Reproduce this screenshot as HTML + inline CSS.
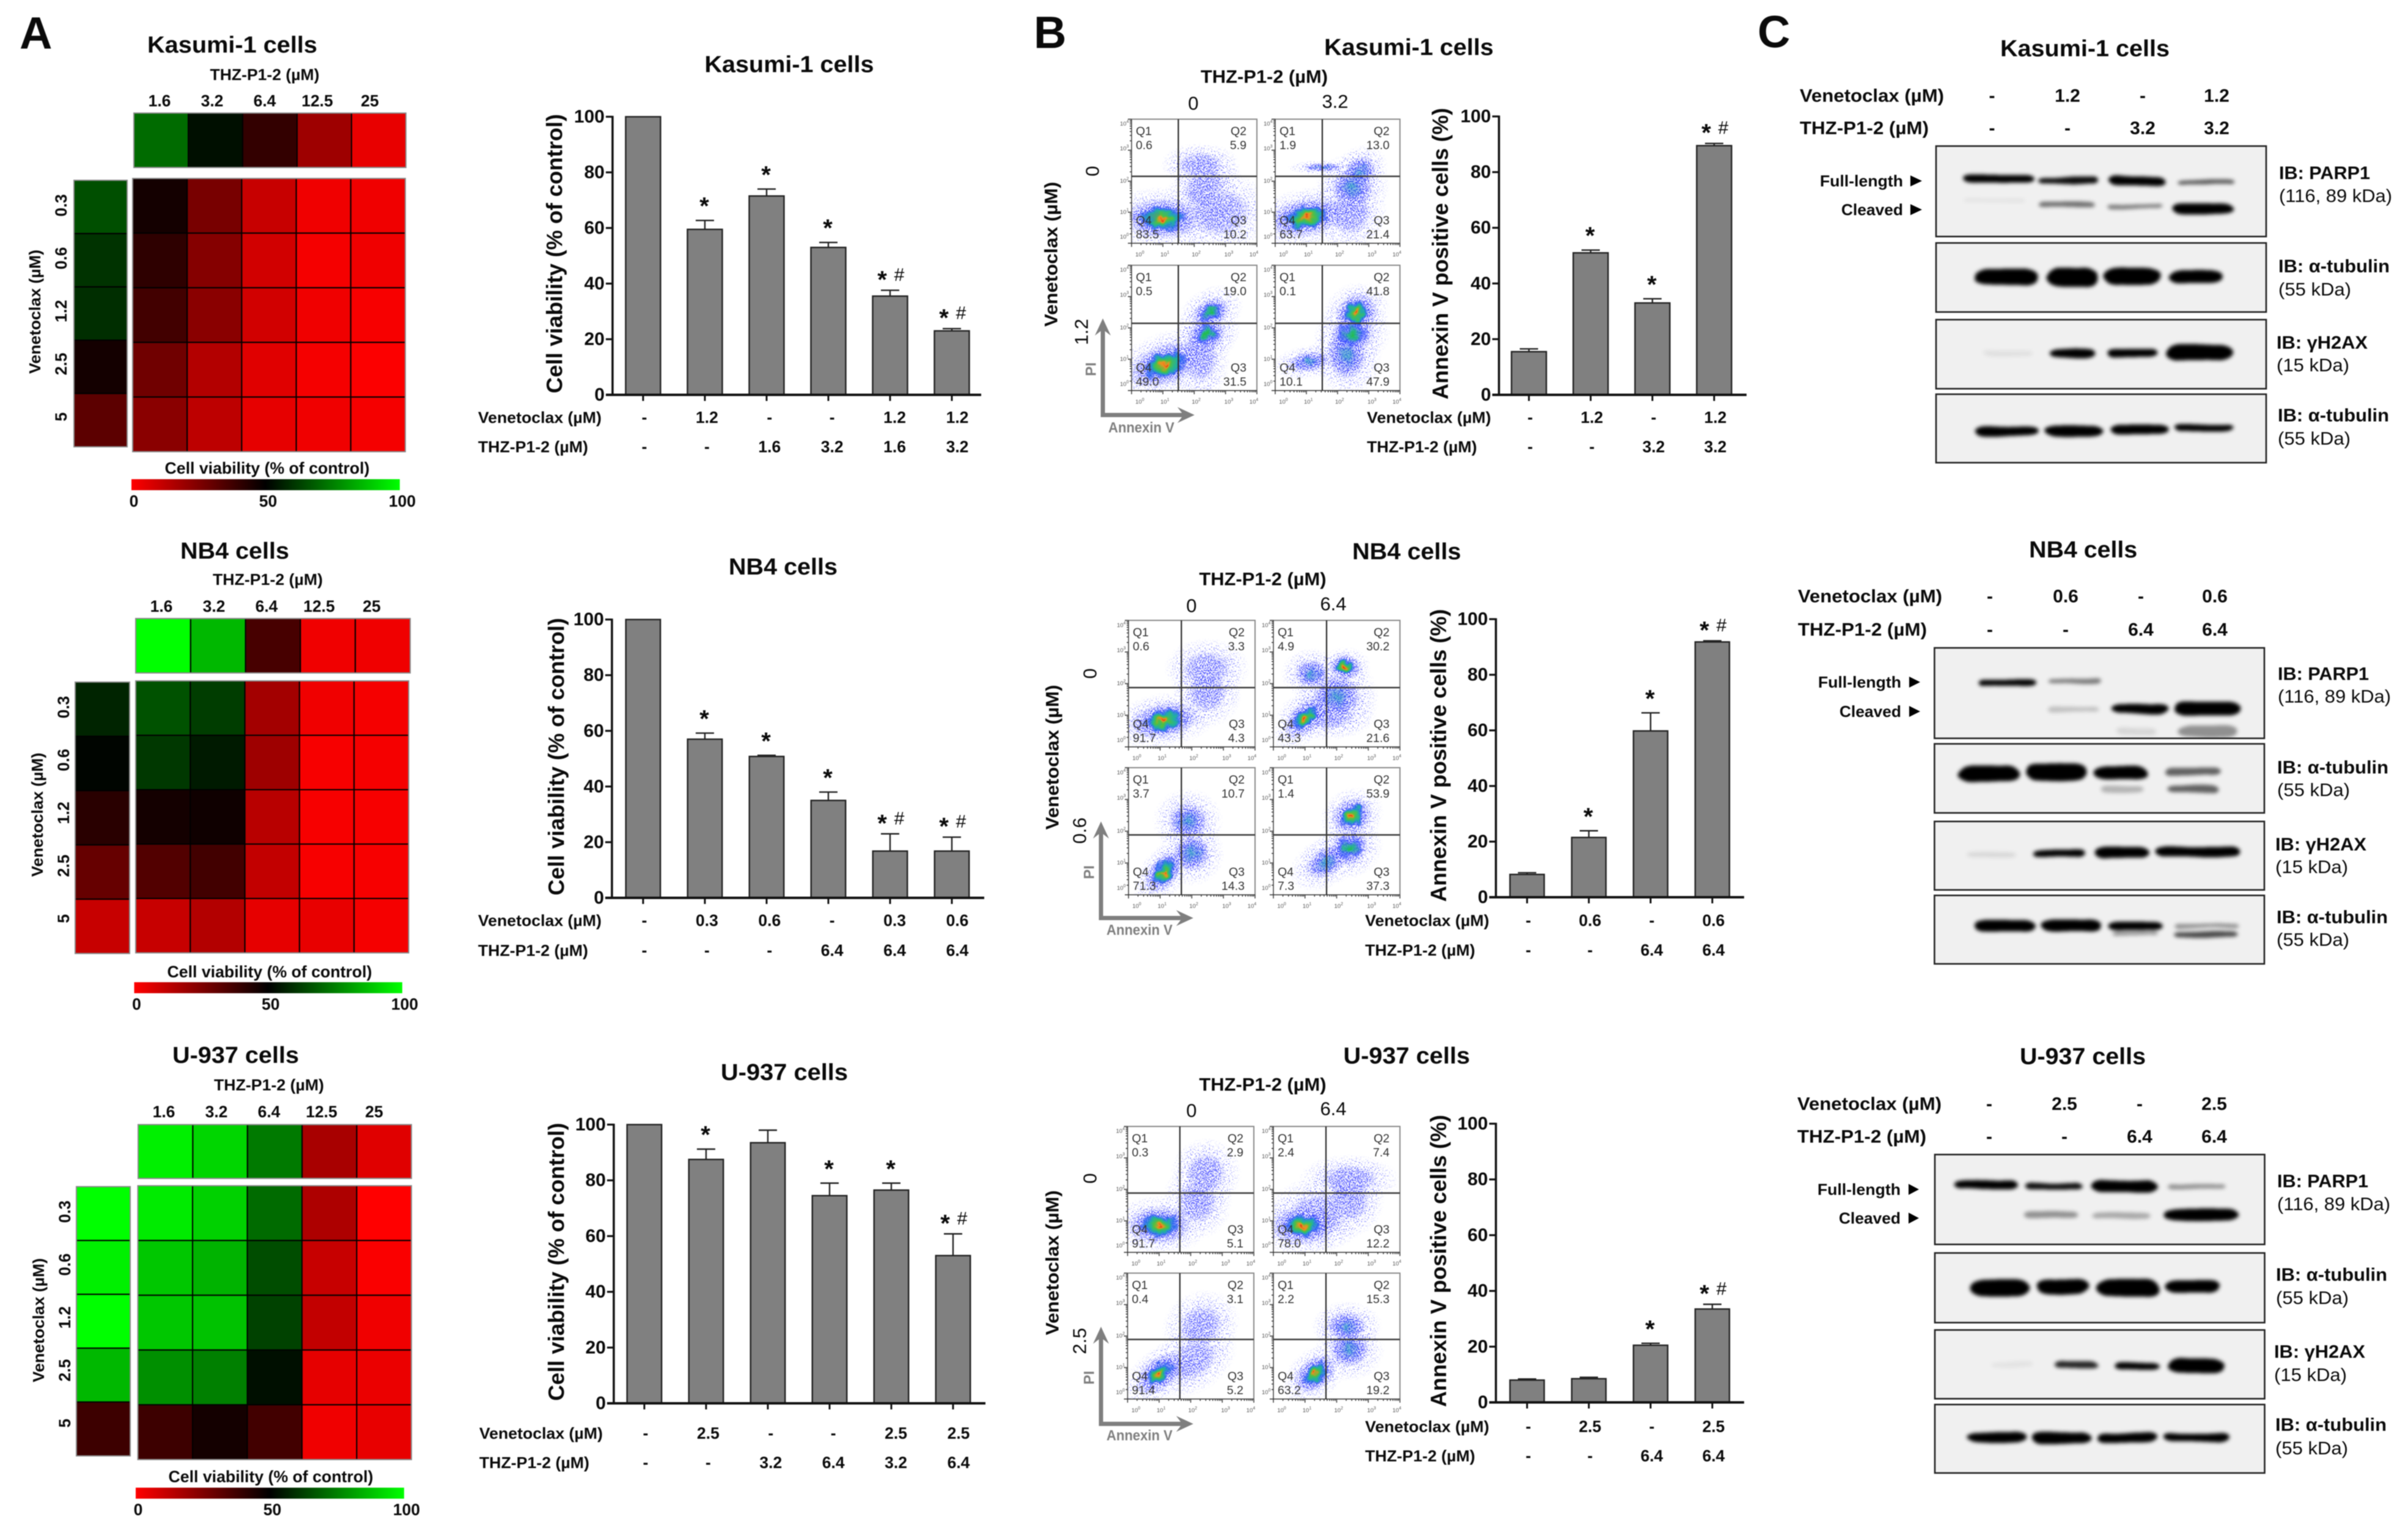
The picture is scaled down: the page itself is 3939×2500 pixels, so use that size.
<!DOCTYPE html>
<html lang="en">
<head>
<meta charset="utf-8">
<title>Venetoclax and THZ-P1-2 combination figure</title>
<style>
html,body{margin:0;padding:0;background:#fff}
svg{display:block;filter:blur(.7px)}
text{font-family:"Liberation Sans","Noto Sans CJK SC",sans-serif;dominant-baseline:central;fill:#0a0a0a}
.b{font-weight:bold}
.n{font-weight:normal}
.m{text-anchor:middle}
.e{text-anchor:end}
.g{fill:#7f7f7f}
.q{fill:#333}
.t{fill:#555}
</style>
</head>
<body>
<svg id="figure" xmlns="http://www.w3.org/2000/svg" width="3939" height="2500" viewBox="0 0 3939 2500">
<defs>
<linearGradient id="cbar" x1="0" x2="1" y1="0" y2="0"><stop offset="0" stop-color="#ff0000"/><stop offset=".5" stop-color="#000"/><stop offset="1" stop-color="#00ff00"/></linearGradient>
<radialGradient id="gOuter"><stop offset="0" stop-color="#1a20ff" stop-opacity="1"/><stop offset=".65" stop-color="#2a30ff" stop-opacity=".85"/><stop offset="1" stop-color="#4048ff" stop-opacity="0"/></radialGradient>
<radialGradient id="gCore1"><stop offset="0" stop-color="#30a8c0" stop-opacity=".75"/><stop offset="1" stop-color="#3040ff" stop-opacity="0"/></radialGradient>
<radialGradient id="gCore2"><stop offset="0" stop-color="#20c040"/><stop offset=".35" stop-color="#20b090" stop-opacity=".9"/><stop offset=".7" stop-color="#3050ff" stop-opacity=".6"/><stop offset="1" stop-color="#3050ff" stop-opacity="0"/></radialGradient>
<radialGradient id="gCore3"><stop offset="0" stop-color="#d83010"/><stop offset=".12" stop-color="#f09020"/><stop offset=".3" stop-color="#50c040"/><stop offset=".55" stop-color="#20b0a0"/><stop offset=".78" stop-color="#2060f0" stop-opacity=".75"/><stop offset="1" stop-color="#2040f0" stop-opacity="0"/></radialGradient>
<filter id="speck" x="-10%" y="-10%" width="120%" height="120%"><feTurbulence type="fractalNoise" baseFrequency=".55" numOctaves="1" seed="3" result="n"/><feColorMatrix in="n" type="matrix" values="0 0 0 0 0 0 0 0 0 0 0 0 0 0 0 0 0 0 14 -7" result="mask"/><feComposite in="SourceGraphic" in2="mask" operator="in"/></filter>
<filter id="speckSparse" x="-10%" y="-10%" width="120%" height="120%"><feTurbulence type="fractalNoise" baseFrequency=".55" numOctaves="1" seed="11" result="n"/><feColorMatrix in="n" type="matrix" values="0 0 0 0 0 0 0 0 0 0 0 0 0 0 0 0 0 0 14 -8.4" result="mask"/><feComposite in="SourceGraphic" in2="mask" operator="in"/></filter>
<filter id="rough" x="-20%" y="-20%" width="140%" height="140%"><feTurbulence type="fractalNoise" baseFrequency=".07" numOctaves="2" seed="5" result="n"/><feDisplacementMap in="SourceGraphic" in2="n" scale="18" xChannelSelector="R" yChannelSelector="G"/></filter>
<filter id="bandBlur" x="-10%" y="-40%" width="120%" height="180%"><feTurbulence type="fractalNoise" baseFrequency=".012 .05" numOctaves="2" seed="8" result="n"/><feDisplacementMap in="SourceGraphic" in2="n" scale="7" xChannelSelector="R" yChannelSelector="G" result="d"/><feGaussianBlur in="d" stdDeviation="3.2"/></filter>
</defs>

<g id="marks"></g>

<g>
<text class="b" x="32" y="54" font-size="74">A</text>
<text class="b" x="1691" y="53" font-size="74">B</text>
<text class="b" x="2875" y="52" font-size="74">C</text>
</g>

<g>
<text class="b m" x="380" y="74" font-size="38" textLength="278" lengthAdjust="spacingAndGlyphs">Kasumi-1 cells</text>
<text class="b m" x="433" y="122" font-size="26" textLength="179" lengthAdjust="spacingAndGlyphs">THZ-P1-2 (µM)</text>
<text class="b m" x="57" y="510" font-size="26" textLength="203" lengthAdjust="spacingAndGlyphs" transform="rotate(-90 57 510)">Venetoclax (µM)</text>
<text class="b m" x="437" y="766" font-size="26.5" textLength="335" lengthAdjust="spacingAndGlyphs">Cell viability (% of control)</text>
<text class="b m" x="384" y="902" font-size="38" textLength="178" lengthAdjust="spacingAndGlyphs">NB4 cells</text>
<text class="b m" x="438" y="948" font-size="26" textLength="180" lengthAdjust="spacingAndGlyphs">THZ-P1-2 (µM)</text>
<text class="b m" x="61" y="1333" font-size="26" textLength="203" lengthAdjust="spacingAndGlyphs" transform="rotate(-90 61 1333)">Venetoclax (µM)</text>
<text class="b m" x="441" y="1590" font-size="26.5" textLength="335" lengthAdjust="spacingAndGlyphs">Cell viability (% of control)</text>
<text class="b m" x="385.5" y="1727" font-size="38" textLength="207" lengthAdjust="spacingAndGlyphs">U-937 cells</text>
<text class="b m" x="440" y="1775" font-size="26" textLength="180" lengthAdjust="spacingAndGlyphs">THZ-P1-2 (µM)</text>
<text class="b m" x="63" y="2160" font-size="26" textLength="203" lengthAdjust="spacingAndGlyphs" transform="rotate(-90 63 2160)">Venetoclax (µM)</text>
<text class="b m" x="443" y="2416" font-size="26.5" textLength="335" lengthAdjust="spacingAndGlyphs">Cell viability (% of control)</text>
</g>

<g>
<text class="b m" x="1291" y="106" font-size="38" textLength="277" lengthAdjust="spacingAndGlyphs">Kasumi-1 cells</text>
<text class="b m" x="907" y="415" font-size="36" textLength="457" lengthAdjust="spacingAndGlyphs" transform="rotate(-90 907 415)">Cell viability (% of control)</text>
<text class="b" x="782" y="683" font-size="26" textLength="202" lengthAdjust="spacingAndGlyphs">Venetoclax (µM)</text>
<text class="b" x="782" y="731" font-size="26" textLength="180" lengthAdjust="spacingAndGlyphs">THZ-P1-2 (µM)</text>
<text class="b m" x="1281" y="928" font-size="38" textLength="178" lengthAdjust="spacingAndGlyphs">NB4 cells</text>
<text class="b m" x="910" y="1238" font-size="36" textLength="454" lengthAdjust="spacingAndGlyphs" transform="rotate(-90 910 1238)">Cell viability (% of control)</text>
<text class="b" x="782" y="1506" font-size="26" textLength="202" lengthAdjust="spacingAndGlyphs">Venetoclax (µM)</text>
<text class="b" x="782" y="1555" font-size="26" textLength="180" lengthAdjust="spacingAndGlyphs">THZ-P1-2 (µM)</text>
<text class="b m" x="1283" y="1755" font-size="38" textLength="208" lengthAdjust="spacingAndGlyphs">U-937 cells</text>
<text class="b m" x="910" y="2064.5" font-size="36" textLength="455" lengthAdjust="spacingAndGlyphs" transform="rotate(-90 910 2064.5)">Cell viability (% of control)</text>
<text class="b" x="784" y="2345" font-size="26" textLength="202" lengthAdjust="spacingAndGlyphs">Venetoclax (µM)</text>
<text class="b" x="784" y="2393" font-size="26" textLength="180" lengthAdjust="spacingAndGlyphs">THZ-P1-2 (µM)</text>
</g>

<g>
<text class="b m" x="2304.7" y="78" font-size="38" textLength="277" lengthAdjust="spacingAndGlyphs">Kasumi-1 cells</text>
<text class="b m" x="2068" y="126" font-size="30" textLength="208" lengthAdjust="spacingAndGlyphs">THZ-P1-2 (µM)</text>
<text class="b m" x="1720" y="416" font-size="30" textLength="237" lengthAdjust="spacingAndGlyphs" transform="rotate(-90 1720 416)">Venetoclax (µM)</text>
<text class="b m" x="2356" y="415" font-size="36" textLength="477" lengthAdjust="spacingAndGlyphs" transform="rotate(-90 2356 415)">Annexin V positive cells (%)</text>
<text class="b" x="2236" y="683" font-size="26" textLength="203" lengthAdjust="spacingAndGlyphs">Venetoclax (µM)</text>
<text class="b" x="2236" y="731" font-size="26" textLength="180" lengthAdjust="spacingAndGlyphs">THZ-P1-2 (µM)</text>
<text class="b m g" x="1785" y="604" font-size="24" transform="rotate(-90 1785 604)">PI</text>
<text class="b g" x="1813" y="700" font-size="24" textLength="108" lengthAdjust="spacingAndGlyphs">Annexin V</text>
<text class="n m" x="1952" y="169" font-size="31">0</text>
<text class="n m" x="2184" y="166" font-size="31">3.2</text>
<text class="n m" x="1787" y="280" font-size="31" transform="rotate(-90 1787 280)">0</text>
<text class="n m" x="1769" y="543" font-size="31" transform="rotate(-90 1769 543)">1.2</text>

<text class="b m" x="2301" y="903" font-size="38" textLength="178" lengthAdjust="spacingAndGlyphs">NB4 cells</text>
<text class="b m" x="2065.5" y="948" font-size="30" textLength="208" lengthAdjust="spacingAndGlyphs">THZ-P1-2 (µM)</text>
<text class="b m" x="1722" y="1239" font-size="30" textLength="237" lengthAdjust="spacingAndGlyphs" transform="rotate(-90 1722 1239)">Venetoclax (µM)</text>
<text class="b m" x="2353" y="1236" font-size="36" textLength="479" lengthAdjust="spacingAndGlyphs" transform="rotate(-90 2353 1236)">Annexin V positive cells (%)</text>
<text class="b" x="2233" y="1506" font-size="26" textLength="203" lengthAdjust="spacingAndGlyphs">Venetoclax (µM)</text>
<text class="b" x="2233" y="1554.5" font-size="26" textLength="180" lengthAdjust="spacingAndGlyphs">THZ-P1-2 (µM)</text>
<text class="b m g" x="1782" y="1427" font-size="24" transform="rotate(-90 1782 1427)">PI</text>
<text class="b g" x="1810" y="1522" font-size="24" textLength="108" lengthAdjust="spacingAndGlyphs">Annexin V</text>
<text class="n m" x="1949" y="991" font-size="31">0</text>
<text class="n m" x="2181" y="988" font-size="31">6.4</text>
<text class="n m" x="1783" y="1102" font-size="31" transform="rotate(-90 1783 1102)">0</text>
<text class="n m" x="1766" y="1359" font-size="31" transform="rotate(-90 1766 1359)">0.6</text>

<text class="b m" x="2301" y="1728" font-size="38" textLength="207" lengthAdjust="spacingAndGlyphs">U-937 cells</text>
<text class="b m" x="2065.5" y="1775" font-size="30" textLength="208" lengthAdjust="spacingAndGlyphs">THZ-P1-2 (µM)</text>
<text class="b m" x="1722" y="2066" font-size="30" textLength="237" lengthAdjust="spacingAndGlyphs" transform="rotate(-90 1722 2066)">Venetoclax (µM)</text>
<text class="b m" x="2353" y="2063" font-size="36" textLength="478" lengthAdjust="spacingAndGlyphs" transform="rotate(-90 2353 2063)">Annexin V positive cells (%)</text>
<text class="b" x="2233" y="2334" font-size="26" textLength="203" lengthAdjust="spacingAndGlyphs">Venetoclax (µM)</text>
<text class="b" x="2233" y="2382" font-size="26" textLength="180" lengthAdjust="spacingAndGlyphs">THZ-P1-2 (µM)</text>
<text class="b m g" x="1782" y="2254" font-size="24" transform="rotate(-90 1782 2254)">PI</text>
<text class="b g" x="1810" y="2349" font-size="24" textLength="108" lengthAdjust="spacingAndGlyphs">Annexin V</text>
<text class="n m" x="1949" y="1817" font-size="31">0</text>
<text class="n m" x="2181" y="1814" font-size="31">6.4</text>
<text class="n m" x="1783" y="1928" font-size="31" transform="rotate(-90 1783 1928)">0</text>
<text class="n m" x="1766" y="2194" font-size="31" transform="rotate(-90 1766 2194)">2.5</text>
</g>

<g>
<text class="b m" x="3410.5" y="80" font-size="38" textLength="277" lengthAdjust="spacingAndGlyphs">Kasumi-1 cells</text>
<text class="b" x="2944" y="157" font-size="30" textLength="236" lengthAdjust="spacingAndGlyphs">Venetoclax (µM)</text>
<text class="b" x="2944" y="210" font-size="30" textLength="211" lengthAdjust="spacingAndGlyphs">THZ-P1-2 (µM)</text>
<text class="b e" x="3113" y="296" font-size="26" textLength="136" lengthAdjust="spacingAndGlyphs">Full-length</text>
<text class="b e" x="3113" y="343" font-size="26" textLength="101" lengthAdjust="spacingAndGlyphs">Cleaved</text>
<polygon points="3125,287 3144,296 3125,305" fill="#000"/>
<polygon points="3125,334 3144,343 3125,352" fill="#000"/>
<text class="b" x="3728" y="283.6" font-size="30" textLength="149" lengthAdjust="spacingAndGlyphs">IB: PARP1</text>
<text class="n" x="3728" y="321" font-size="30" textLength="185" lengthAdjust="spacingAndGlyphs">(116, 89 kDa)</text>
<text class="b" x="3727" y="436" font-size="30" textLength="182" lengthAdjust="spacingAndGlyphs">IB: α-tubulin</text>
<text class="n" x="3727" y="474" font-size="30" textLength="119" lengthAdjust="spacingAndGlyphs">(55 kDa)</text>
<text class="b" x="3724" y="561" font-size="30" textLength="149" lengthAdjust="spacingAndGlyphs">IB: γH2AX</text>
<text class="n" x="3724" y="598" font-size="30" textLength="119" lengthAdjust="spacingAndGlyphs">(15 kDa)</text>
<text class="b" x="3726" y="680" font-size="30" textLength="182" lengthAdjust="spacingAndGlyphs">IB: α-tubulin</text>
<text class="n" x="3726" y="718" font-size="30" textLength="119" lengthAdjust="spacingAndGlyphs">(55 kDa)</text>

<text class="b m" x="3407.7" y="900" font-size="38" textLength="177" lengthAdjust="spacingAndGlyphs">NB4 cells</text>
<text class="b" x="2941" y="976" font-size="30" textLength="236" lengthAdjust="spacingAndGlyphs">Venetoclax (µM)</text>
<text class="b" x="2941" y="1030.6" font-size="30" textLength="211" lengthAdjust="spacingAndGlyphs">THZ-P1-2 (µM)</text>
<text class="b e" x="3110" y="1116" font-size="26" textLength="136" lengthAdjust="spacingAndGlyphs">Full-length</text>
<text class="b e" x="3110" y="1164" font-size="26" textLength="101" lengthAdjust="spacingAndGlyphs">Cleaved</text>
<polygon points="3123,1107 3141,1116 3123,1125" fill="#000"/>
<polygon points="3123,1155 3141,1164 3123,1173" fill="#000"/>
<text class="b" x="3726" y="1103" font-size="30" textLength="149" lengthAdjust="spacingAndGlyphs">IB: PARP1</text>
<text class="n" x="3726" y="1140" font-size="30" textLength="185" lengthAdjust="spacingAndGlyphs">(116, 89 kDa)</text>
<text class="b" x="3725" y="1256" font-size="30" textLength="182" lengthAdjust="spacingAndGlyphs">IB: α-tubulin</text>
<text class="n" x="3725" y="1293" font-size="30" textLength="119" lengthAdjust="spacingAndGlyphs">(55 kDa)</text>
<text class="b" x="3722" y="1382" font-size="30" textLength="149" lengthAdjust="spacingAndGlyphs">IB: γH2AX</text>
<text class="n" x="3722" y="1419" font-size="30" textLength="119" lengthAdjust="spacingAndGlyphs">(15 kDa)</text>
<text class="b" x="3724" y="1501" font-size="30" textLength="182" lengthAdjust="spacingAndGlyphs">IB: α-tubulin</text>
<text class="n" x="3724" y="1538" font-size="30" textLength="119" lengthAdjust="spacingAndGlyphs">(55 kDa)</text>

<text class="b m" x="3407" y="1729" font-size="38" textLength="206" lengthAdjust="spacingAndGlyphs">U-937 cells</text>
<text class="b" x="2940" y="1806.6" font-size="30" textLength="236" lengthAdjust="spacingAndGlyphs">Venetoclax (µM)</text>
<text class="b" x="2940" y="1860" font-size="30" textLength="211" lengthAdjust="spacingAndGlyphs">THZ-P1-2 (µM)</text>
<text class="b e" x="3109" y="1946" font-size="26" textLength="136" lengthAdjust="spacingAndGlyphs">Full-length</text>
<text class="b e" x="3109" y="1993" font-size="26" textLength="101" lengthAdjust="spacingAndGlyphs">Cleaved</text>
<polygon points="3122,1937 3139,1946 3122,1955" fill="#000"/>
<polygon points="3122,1984 3139,1993 3122,2002" fill="#000"/>
<text class="b" x="3725" y="1933" font-size="30" textLength="149" lengthAdjust="spacingAndGlyphs">IB: PARP1</text>
<text class="n" x="3725" y="1970.5" font-size="30" textLength="185" lengthAdjust="spacingAndGlyphs">(116, 89 kDa)</text>
<text class="b" x="3723" y="2086" font-size="30" textLength="182" lengthAdjust="spacingAndGlyphs">IB: α-tubulin</text>
<text class="n" x="3723" y="2124" font-size="30" textLength="119" lengthAdjust="spacingAndGlyphs">(55 kDa)</text>
<text class="b" x="3720" y="2212" font-size="30" textLength="149" lengthAdjust="spacingAndGlyphs">IB: γH2AX</text>
<text class="n" x="3720" y="2250" font-size="30" textLength="119" lengthAdjust="spacingAndGlyphs">(15 kDa)</text>
<text class="b" x="3722" y="2331.6" font-size="30" textLength="182" lengthAdjust="spacingAndGlyphs">IB: α-tubulin</text>
<text class="n" x="3722" y="2370" font-size="30" textLength="119" lengthAdjust="spacingAndGlyphs">(55 kDa)</text>
</g>
</svg>

<script>
/* ---------- heatmap data: cell viability, % of control ---------- */
const heatColumnLabels = ['1.6', '3.2', '6.4', '12.5', '25'];
const heatRowLabels = ['0.3', '0.6', '1.2', '2.5', '5'];
const colorbarTicks = [0, 50, 100];

const kasumiThzOnly = [71, 53, 40, 19, 4.5];
const kasumiVenOnly = [65.5, 60, 59, 46, 32];
const kasumiCombo = [
  [46, 26.5, 11, 3, 3],
  [41, 24, 9, 2, 3],
  [37, 23, 9, 3, 1.5],
  [28, 15, 6, 2, 0.5],
  [23, 13, 5, 3, 2]
];
const nb4ThzOnly = [100, 86, 36, 3, 3];
const nb4VenOnly = [57, 51, 42, 30, 11];
const nb4Combo = [
  [66, 62, 18, 3, 2],
  [61, 55, 19, 1.5, 2],
  [46, 47, 14, 1.5, 1.5],
  [34, 37, 12, 1.5, 1.5],
  [11, 15, 5, 4.5, 2]
];
const u937ThzOnly = [97, 92, 74, 17, 6];
const u937VenOnly = [100, 97, 100, 86, 38];
const u937Combo = [
  [96, 91, 71, 16, 0],
  [89, 85, 65, 11, 1],
  [89, 88, 63, 12, 3],
  [78, 75, 53, 5, 4],
  [38, 46, 37, 3, 4.5]
];

/* ---------- bar data ---------- */
const yTicks = [0, 20, 40, 60, 80, 100];

const viabKasumiValues = [100, 59.5, 71.5, 53, 35.5, 23];
const viabKasumiErrors = [0, 3.2, 2.5, 1.8, 2.1, 0.8];
const viabKasumiSig = ['', '*', '*', '*', '* #', '* #'];
const viabKasumiVen = ['-', '1.2', '-', '-', '1.2', '1.2'];
const viabKasumiThz = ['-', '-', '1.6', '3.2', '1.6', '3.2'];

const viabNb4Values = [100, 57, 50.8, 35, 16.8, 16.8];
const viabNb4Errors = [0, 2.2, 0.4, 3, 6.2, 5];
const viabNb4Sig = ['', '*', '*', '*', '* #', '* #'];
const viabNb4Ven = ['-', '0.3', '0.6', '-', '0.3', '0.6'];
const viabNb4Thz = ['-', '-', '-', '6.4', '6.4', '6.4'];

const viabU937Values = [100, 87.5, 93.5, 74.5, 76.5, 53];
const viabU937Errors = [0, 3.7, 4.5, 4.5, 2.5, 7.8];
const viabU937Sig = ['', '*', '', '*', '*', '* #'];
const viabU937Ven = ['-', '2.5', '-', '-', '2.5', '2.5'];
const viabU937Thz = ['-', '-', '3.2', '6.4', '3.2', '6.4'];

const annexinKasumiValues = [15.5, 51, 33, 89.5];
const annexinKasumiErrors = [1, 1, 1.5, 0.8];
const annexinKasumiSig = ['', '*', '*', '* #'];
const annexinKasumiVen = ['-', '1.2', '-', '1.2'];
const annexinKasumiThz = ['-', '-', '3.2', '3.2'];

const annexinNb4Values = [8.2, 21.5, 59.8, 91.8];
const annexinNb4Errors = [0.6, 2.4, 6.5, 0.4];
const annexinNb4Sig = ['', '*', '*', '* #'];
const annexinNb4Ven = ['-', '0.6', '-', '0.6'];
const annexinNb4Thz = ['-', '-', '6.4', '6.4'];

const annexinU937Values = [8, 8.5, 20.5, 33.5];
const annexinU937Errors = [0.4, 0.5, 0.7, 1.7];
const annexinU937Sig = ['', '', '*', '* #'];
const annexinU937Ven = ['-', '2.5', '-', '2.5'];
const annexinU937Thz = ['-', '-', '6.4', '6.4'];

/* ---------- flow cytometry: gate percentages [Q1, Q2, Q3, Q4] per plot ---------- */
const gateKasumi = [['0.6','5.9','10.2','83.5'], ['1.9','13.0','21.4','63.7'], ['0.5','19.0','31.5','49.0'], ['0.1','41.8','47.9','10.1']];
const gateNb4 = [['0.6','3.3','4.3','91.7'], ['4.9','30.2','21.6','43.3'], ['3.7','10.7','14.3','71.3'], ['1.4','53.9','37.3','7.3']];
const gateU937 = [['0.3','2.9','5.1','91.7'], ['2.4','7.4','12.2','78.0'], ['0.4','3.1','5.2','91.4'], ['2.2','15.3','19.2','63.2']];

/* populations: [annexin fraction, PI fraction from top, spread x, spread y, tilt, density level] */
const popKasumi = [
  [[.25,.80,.24,.13,0,3],[.12,.79,.14,.05,0,1],[.55,.37,.16,.09,0,0],[.58,.55,.16,.12,-30,0],[.7,.75,.22,.17,0,0]],
  [[.25,.79,.25,.12,-10,3],[.38,.39,.14,.03,0,1],[.68,.42,.12,.1,-40,1],[.62,.55,.15,.14,0,1],[.6,.75,.15,.16,0,0]],
  [[.27,.79,.24,.13,-20,3],[.63,.38,.14,.1,-30,2],[.6,.55,.14,.11,-20,2],[.55,.72,.12,.2,0,0]],
  [[.65,.38,.14,.12,-30,3],[.62,.55,.16,.14,-30,2],[.57,.72,.14,.17,-10,1],[.27,.77,.15,.07,-10,1]]
];
const popNb4 = [
  [[.28,.79,.22,.11,-10,3],[.62,.38,.17,.12,0,0],[.62,.57,.14,.14,0,0]],
  [[.57,.37,.1,.08,0,3],[.25,.77,.16,.09,-45,3],[.3,.42,.12,.1,0,1],[.5,.6,.17,.15,0,1],[.42,.75,.2,.1,0,0]],
  [[.28,.82,.16,.09,-50,3],[.47,.42,.14,.13,0,1],[.5,.67,.13,.13,-30,1]],
  [[.62,.38,.13,.11,-30,3],[.6,.63,.14,.12,-30,2],[.42,.74,.16,.1,-30,1]]
];
const popU937 = [
  [[.25,.785,.2,.12,0,3],[.62,.37,.14,.14,0,0],[.55,.6,.14,.15,0,0]],
  [[.23,.79,.2,.12,0,3],[.6,.42,.2,.1,0,0],[.6,.58,.14,.15,0,0],[.35,.7,.2,.15,0,0]],
  [[.25,.8,.17,.1,-40,3],[.58,.42,.16,.14,-30,0],[.5,.7,.2,.13,-30,0]],
  [[.33,.8,.15,.1,-40,3],[.58,.42,.14,.1,0,1],[.6,.6,.14,.13,0,1]]
];

/* ---------- blots: lane dose labels and band [start, end, centre, thickness, darkness] ---------- */
const blotKasumiVen = ['-', '1.2', '-', '1.2'];
const blotKasumiThz = ['-', '-', '3.2', '3.2'];
const blotNb4Ven = ['-', '0.6', '-', '0.6'];
const blotNb4Thz = ['-', '-', '6.4', '6.4'];
const blotU937Ven = ['-', '2.5', '-', '2.5'];
const blotU937Thz = ['-', '-', '6.4', '6.4'];

const bandsKasumi = [
  [[470,645,587,22,1],[655,805,593,16,.95],[830,970,595,28,1],[1000,1140,600,9,.65],[470,620,660,6,.06],[655,795,673,12,.55],[825,960,678,10,.5],[985,1138,686,30,1]],
  [[498,655,912,50,1],[675,805,912,56,1],[818,958,908,50,1],[978,1110,910,36,1]],
  [[520,640,1160,12,.07],[683,795,1163,24,1],[825,950,1160,24,1],[970,1135,1160,50,1]],
  [[500,655,1418,28,1],[670,815,1418,32,1],[833,975,1412,25,1],[990,1138,1406,18,1]]
];
const bandsNb4 = [
  [[508,650,530,14,1],[680,810,527,10,.5],[680,805,620,12,.2],[835,975,618,28,1],[990,1155,616,40,1],[1000,1145,695,34,.4],[845,950,695,20,.1]],
  [[458,610,838,48,1],[625,775,832,52,1],[792,925,835,40,1],[968,1105,830,20,.6],[975,1100,887,20,.6],[810,915,890,14,.25]],
  [[480,600,1110,10,.1],[642,770,1107,20,1],[795,930,1103,32,1],[945,1155,1100,30,1]],
  [[498,650,1350,34,1],[662,812,1350,36,1],[830,960,1350,28,1],[990,1150,1352,10,.4],[990,1150,1380,14,.7],[840,950,1378,8,.4]]
];
const bandsU937 = [
  [[447,605,492,24,1],[622,765,497,18,.95],[785,950,497,32,1],[975,1120,498,10,.4],[622,755,592,16,.4],[790,930,597,14,.3],[965,1150,593,36,1]],
  [[488,632,840,52,1],[650,782,835,46,1],[800,955,840,56,1],[970,1105,835,36,1]],
  [[540,640,1098,10,.06],[695,805,1100,18,.85],[845,955,1103,22,1],[975,1115,1102,45,1]],
  [[480,625,1345,30,1],[638,785,1347,34,1],[800,950,1345,28,1],[965,1125,1345,22,1]]
];

/* ---------- helpers ---------- */
const NS = 'http://www.w3.org/2000/svg';
const root = document.getElementById('marks');
function add(parent, tag, attrs) {
  const node = document.createElementNS(NS, tag);
  for (const k in attrs) node.setAttribute(k, attrs[k]);
  parent.appendChild(node);
  return node;
}
function lab(parent, x, y, str, cls, size) {
  const node = add(parent, 'text', { x: x, y: y, class: cls, 'font-size': size });
  node.textContent = str;
  return node;
}
function group(parent, name) {
  const el = add(parent, 'g', {});
  
  
  return el;
}
function viabColor(v) {
  if (v < 50) return 'rgb(' + Math.round((50 - v) / 50 * 255) + ',0,0)';
  return 'rgb(0,' + Math.round((v - 50) / 50 * 255) + ',0)';
}

/* ---------- heatmaps ---------- */
function heatGrid(parent, name, x, y, w, h, matrix) {
  const g = group(parent, name);
  const cw = w / matrix[0].length, ch = h / matrix.length;
  matrix.forEach(function (row, r) {
    row.forEach(function (v, c) {
      const el = add(g, 'rect', { x: x + c * cw, y: y + r * ch, width: cw, height: ch, fill: viabColor(v), stroke: '#000', 'stroke-width': 2 });
      
      
    });
  });
  const frame = add(g, 'rect', { x: x, y: y, width: w, height: h, fill: 'none', stroke: '#8a8a8a', 'stroke-width': 2 });
  
  
}
function heatPanel(key, thzOnly, venOnly, combo, top, left, main, bar, colY, rowX) {
  const g = group(root, 'heatmap-panel-' + key);
  heatGrid(g, 'heatmap-thz-only-' + key, top[0], top[1], top[2], top[3], [thzOnly]);
  heatGrid(g, 'heatmap-venetoclax-only-' + key, left[0], left[1], left[2], left[3], venOnly.map(function (v) { return [v]; }));
  heatGrid(g, 'heatmap-combination-' + key, main[0], main[1], main[2], main[3], combo);
  heatColumnLabels.forEach(function (s, i) {
    const el = lab(g, top[0] + 42 + i * 86, colY, s, 'b m', 26.5);
    
    
  });
  heatRowLabels.forEach(function (s, i) {
    const cy = left[1] + 41 + i * 86.5;
    const el = lab(g, rowX, cy, s, 'b m', 26.5);
    el.setAttribute('transform', 'rotate(-90 ' + rowX + ' ' + cy + ')');
    
    
  });
  const cb = add(g, 'rect', { x: bar[0], y: bar[1], width: bar[2], height: bar[3], fill: 'url(#cbar)' });
  
  
  colorbarTicks.forEach(function (t) {
    const el = lab(g, bar[0] + 4 + t / 100 * bar[2], bar[1] + bar[3] + 18, String(t), 'b m', 26.5);
    
    
  });
}
heatPanel('kasumi', kasumiThzOnly, kasumiVenOnly, kasumiCombo, [219, 185, 445, 89], [121, 295, 87, 436], [217, 292, 446, 447], [215, 784, 439, 18], 165, 100);
heatPanel('nb4', nb4ThzOnly, nb4VenOnly, nb4Combo, [222, 1012, 449, 89], [123, 1116, 89, 444], [222, 1114, 446.5, 445], [219.5, 1607, 438.5, 18], 992, 104);
heatPanel('u937', u937ThzOnly, u937VenOnly, u937Combo, [226, 1840, 447, 88], [125, 1941.5, 88, 440.5], [225.5, 1940, 447.5, 448], [222, 2434, 439, 18], 1819, 106);

/* ---------- bar charts ---------- */
function barChart(name, a, values, errors, sig, venRow, thzRow) {
  const g = group(root, name);
  const yScale = function (v) { return a.y0 - (v / 100) * (a.y0 - a.y100); };
  const xScale = function (i) { return a.first + i * a.step; };
  values.forEach(function (v, i) {
    const cx = xScale(i), topY = yScale(v);
    const bar = add(g, 'rect', { x: cx - a.barW / 2, y: topY, width: a.barW, height: a.y0 - topY, fill: '#808080', stroke: '#222', 'stroke-width': 2.4 });
    
    
    const errY = yScale(v + errors[i]);
    if (errors[i] > 0) {
      const err = add(g, 'path', { d: 'M' + cx + ' ' + topY + 'V' + errY + 'M' + (cx - 15) + ' ' + errY + 'H' + (cx + 15), fill: 'none', stroke: '#222', 'stroke-width': 2.4 });
      
      
    }
    const tick = add(g, 'line', { x1: cx, x2: cx, y1: a.y0, y2: a.y0 + 10, stroke: '#111', 'stroke-width': 3 });
    
    
    if (sig[i]) {
      const dbl = sig[i].length > 1;
      const starY = errY - (dbl ? 25 : 31);
      const star = lab(g, cx + (dbl ? -13 : -1), starY + 8, '*', 'b m', 40);
      
      
      if (dbl) {
        const hash = lab(g, cx + 15, starY, '#', 'n m', 30);
        
        
      }
    }
    const lx = cx + a.labShift(i);
    const v1 = lab(g, lx, a.rowA, venRow[i], 'b m', a.valFs);
    
    
    const v2 = lab(g, lx, a.rowB, thzRow[i], 'b m', a.valFs);
    
    
  });
  const yAxis = add(g, 'line', { x1: a.x0, x2: a.x0, y1: a.y100 - 1.5, y2: a.y0 + 2, stroke: '#111', 'stroke-width': 3.5 });
  
  
  const xAxis = add(g, 'line', { x1: a.x0 - 11, x2: a.xEnd, y1: a.y0, y2: a.y0, stroke: '#111', 'stroke-width': 4 });
  
  
  yTicks.forEach(function (t) {
    const ty = yScale(t);
    const tk = add(g, 'line', { x1: a.x0 - 11, x2: a.x0, y1: ty, y2: ty, stroke: '#111', 'stroke-width': 3.2 });
    
    
    const tl = lab(g, a.x0 - 13, ty, String(t), 'b e', 30);
    
    
  });
}
const shiftA = function (i) { return 2 + i * 1.4; };
const shiftB = function () { return 2; };
barChart('viability-chart-kasumi', { x0: 1002, y100: 191, y0: 646, first: 1052, step: 101, barW: 57, xEnd: 1605, rowA: 683, rowB: 731, valFs: 26.5, labShift: shiftA }, viabKasumiValues, viabKasumiErrors, viabKasumiSig, viabKasumiVen, viabKasumiThz);
barChart('viability-chart-nb4', { x0: 1001, y100: 1013.6, y0: 1469, first: 1052, step: 101, barW: 56.5, xEnd: 1610, rowA: 1506, rowB: 1555, valFs: 26.5, labShift: shiftA }, viabNb4Values, viabNb4Errors, viabNb4Sig, viabNb4Ven, viabNb4Thz);
barChart('viability-chart-u937', { x0: 1004, y100: 1840, y0: 2296, first: 1054, step: 101, barW: 56.5, xEnd: 1612, rowA: 2345, rowB: 2393, valFs: 26.5, labShift: shiftA }, viabU937Values, viabU937Errors, viabU937Sig, viabU937Ven, viabU937Thz);
barChart('annexin-chart-kasumi', { x0: 2452, y100: 190.5, y0: 646, first: 2501, step: 101, barW: 57, xEnd: 2857, rowA: 683, rowB: 731, valFs: 26.5, labShift: shiftB }, annexinKasumiValues, annexinKasumiErrors, annexinKasumiSig, annexinKasumiVen, annexinKasumiThz);
barChart('annexin-chart-nb4', { x0: 2447, y100: 1013, y0: 1468, first: 2498, step: 101, barW: 56, xEnd: 2853, rowA: 1506, rowB: 1554.5, valFs: 26.5, labShift: shiftB }, annexinNb4Values, annexinNb4Errors, annexinNb4Sig, annexinNb4Ven, annexinNb4Thz);
barChart('annexin-chart-u937', { x0: 2447, y100: 1838.5, y0: 2294.5, first: 2498, step: 101, barW: 56, xEnd: 2853, rowA: 2334, rowB: 2382, valFs: 26.5, labShift: shiftB }, annexinU937Values, annexinU937Errors, annexinU937Sig, annexinU937Ven, annexinU937Thz);

/* ---------- flow cytometry plots ---------- */
let clipId = 0;
function logTicks(len) {
  const out = [];
  for (let d = 0; d < 4; d++) {
    for (let m = 1; m < 10; m++) out.push([(d + Math.log10(m)) / 4 * len, m === 1]);
  }
  out.push([len, true]);
  return out;
}
function flowPlot(name, x0, y0, x1, y1, vx, hy, pops, q) {
  const g = group(root, name);
  const w = x1 - x0, h = y1 - y0;
  const id = 'clip' + (clipId++);
  const cp = add(g, 'clipPath', { id: id });
  add(cp, 'rect', { x: x0, y: y0, width: w, height: h });
  const clipped = add(g, 'g', { 'clip-path': 'url(#' + id + ')' });
  const halos = add(clipped, 'g', { filter: 'url(#speckSparse)' });
  const clouds = add(clipped, 'g', { filter: 'url(#speck)' });
  const cores = add(clipped, 'g', { filter: 'url(#rough)' });
  pops.forEach(function (p, i) {
    const cx = x0 + p[0] * w, cy = y0 + p[1] * h, rx = p[2] * w, ry = p[3] * h, lvl = p[5];
    const rot = 'rotate(' + p[4] + ' ' + cx + ' ' + cy + ')';
    const halo = add(halos, 'ellipse', { cx: cx, cy: cy, rx: rx * 2, ry: ry * 2, fill: 'url(#gOuter)', opacity: .8, transform: rot });
    
    
    const scale = lvl === 3 ? 1.3 : 1.15;
    const cloud = add(clouds, 'ellipse', { cx: cx, cy: cy, rx: rx * scale, ry: ry * scale, fill: 'url(#gOuter)', opacity: lvl === 0 ? .75 : 1, transform: rot });
    
    
    if (lvl > 0) {
      const core = add(cores, 'ellipse', { cx: cx, cy: cy, rx: rx * (lvl === 3 ? .78 : .75), ry: ry * (lvl === 3 ? .78 : .75), fill: 'url(#gCore' + lvl + ')', transform: rot });
      
      
    }
  });
  const frameTR = add(g, 'path', { d: 'M' + x0 + ' ' + y0 + 'H' + x1 + 'V' + y1, fill: 'none', stroke: '#8a8a8a', 'stroke-width': 2 });
  
  
  let dAxis = 'M' + x0 + ' ' + y0 + 'V' + y1 + 'H' + x1;
  logTicks(w).forEach(function (t) { dAxis += 'M' + (x0 + t[0]) + ' ' + y1 + 'v' + (t[1] ? 6 : 3); });
  logTicks(h).forEach(function (t) { dAxis += 'M' + x0 + ' ' + (y1 - t[0]) + 'h' + (t[1] ? -6 : -3); });
  const axes = add(g, 'path', { d: dAxis, fill: 'none', stroke: '#333', 'stroke-width': 1.4 });
  
  
  const gateV = add(g, 'line', { x1: vx, x2: vx, y1: y0, y2: y1, stroke: '#2a2a2a', 'stroke-width': 2.2 });
  
  
  const gateH = add(g, 'line', { x1: x0, x2: x1, y1: hy, y2: hy, stroke: '#3a3a3a', 'stroke-width': 2.6 });
  
  
  [.05, .25, .5, .76, .96].forEach(function (f, k) {
    const xt = lab(g, x0 + f * w - 4, y1 + 19, '10', 't n', 9.5);
    add(xt, 'tspan', { dy: -4, 'font-size': 7 }).textContent = String(k);
    
    
    const yt = lab(g, x0 - 19, y1 - f * h, '10', 't n', 9.5);
    add(yt, 'tspan', { dy: -4, 'font-size': 7 }).textContent = String(k);
    
    
  });
  const gateNames = ['Q1', 'Q2', 'Q3', 'Q4'];
  const spots = [[x0 + 7, y0 + 20, 'q'], [x1 - 17, y0 + 20, 'q e'], [x1 - 17, y1 - 37, 'q e'], [x0 + 7, y1 - 37, 'q']];
  gateNames.forEach(function (nm, i) {
    const s = spots[i];
    const a1 = lab(g, s[0], s[1], nm, s[2], 19.5);
    
    
    const a2 = lab(g, s[0], s[1] + 23, q[i], s[2], 19.5);
    
    
  });
}
function flowSet(key, cols, rows, gates, pops, qs) {
  const names = ['control', 'thz', 'venetoclax', 'combination'];
  let k = 0;
  rows.forEach(function (r, ri) {
    cols.forEach(function (c, ci) {
      flowPlot('flow-plot-' + key + '-' + names[k], c[0], r[0], c[1], r[1], gates.v[ci], gates.h[ri], pops[k], qs[k]);
      k++;
    });
  });
}
flowSet('kasumi', [[1851, 2056], [2086, 2290]], [[195, 398], [434, 639]], { v: [1927.5, 2163], h: [288.5, 529] }, popKasumi, gateKasumi);
flowSet('nb4', [[1846, 2053], [2083, 2290]], [[1015, 1222], [1256, 1464]], { v: [1932.5, 2170], h: [1125, 1366] }, popNb4, gateNb4);
flowSet('u937', [[1844.5, 2051], [2083, 2290]], [[1843, 2049], [2083, 2289]], { v: [1930, 2169], h: [1952, 2191.5] }, popU937, gateU937);

function axisArrows(key, x, yBottom, yTop, xEnd) {
  const g = group(root, 'flow-axis-arrows-' + key);
  const line = add(g, 'path', { d: 'M' + x + ' ' + (yTop + 14) + 'V' + yBottom + 'H' + (xEnd - 14), fill: 'none', stroke: '#7f7f7f', 'stroke-width': 7 });
  
  
  const up = add(g, 'polygon', { points: x + ',' + yTop + ' ' + (x + 13) + ',' + (yTop + 28) + ' ' + x + ',' + (yTop + 18) + ' ' + (x - 13) + ',' + (yTop + 28), fill: '#7f7f7f' });
  
  
  const right = add(g, 'polygon', { points: xEnd + ',' + yBottom + ' ' + (xEnd - 28) + ',' + (yBottom - 13) + ' ' + (xEnd - 18) + ',' + yBottom + ' ' + (xEnd - 28) + ',' + (yBottom + 13), fill: '#7f7f7f' });
  
  
}
axisArrows('kasumi', 1804, 679, 521, 1954);
axisArrows('nb4', 1801, 1502, 1344, 1952);
axisArrows('u937', 1801, 2329.6, 2170.6, 1952);

/* ---------- western blots ---------- */
function blotSet(key, left, right, boxes, laneX, rowVen, rowThz, yOrigin, yFactor, ven, thz, bands) {
  const g = group(root, 'western-blots-' + key);
  const markers = ['parp1', 'tubulin-a', 'h2ax', 'tubulin-b'];
  boxes.forEach(function (b, i) {
    const bg = add(g, 'rect', { x: left, y: b[0], width: right - left, height: b[1] - b[0], fill: '#f0f0f0' });
    
    
    const id = 'clip' + (clipId++);
    const cp = add(g, 'clipPath', { id: id });
    add(cp, 'rect', { x: left, y: b[0], width: right - left, height: b[1] - b[0] });
    const clip = add(g, 'g', { 'clip-path': 'url(#' + id + ')' });
    const blurred = add(clip, 'g', { filter: 'url(#bandBlur)' });
    bands[i].forEach(function (d, j) {
      const bx0 = 2900 + d[0] / 1.509, bx1 = 2900 + d[1] / 1.509;
      const cy = yOrigin + d[2] / yFactor, th = d[3] / yFactor + 2.5;
      const el = add(blurred, 'rect', { x: bx0, y: cy - th / 2, width: bx1 - bx0, height: th, rx: Math.min(th, 22), ry: th / 2, fill: '#000', opacity: d[4] });
      
      
    });
    const fr = add(g, 'rect', { x: left, y: b[0], width: right - left, height: b[1] - b[0], fill: 'none', stroke: '#222', 'stroke-width': 2.6 });
    
    
  });
  laneX.forEach(function (x, i) {
    const a = lab(g, x, rowVen, ven[i], 'b m', 30);
    
    
    const c = lab(g, x, rowThz, thz[i], 'b m', 30);
    
    
  });
}
blotSet('kasumi', 3167, 3707, [[239, 387], [397.5, 510.5], [523, 636], [645, 757]], [3258.5, 3382, 3505, 3626], 157, 210, 0, 2.01, blotKasumiVen, blotKasumiThz, bandsKasumi);
blotSet('nb4', 3164.4, 3704, [[1060, 1208], [1217, 1330], [1344, 1456], [1465, 1577]], [3255, 3379, 3502, 3623], 976, 1030.6, 860, 2.063, blotNb4Ven, blotNb4Thz, bandsNb4);
blotSet('u937', 3165, 3704.5, [[1889, 2036], [2050, 2164], [2176, 2288.5], [2298, 2410]], [3254, 3377, 3500, 3622], 1806.6, 1860, 1700, 2.063, blotU937Ven, blotU937Thz, bandsU937);
</script>
</body>
</html>
